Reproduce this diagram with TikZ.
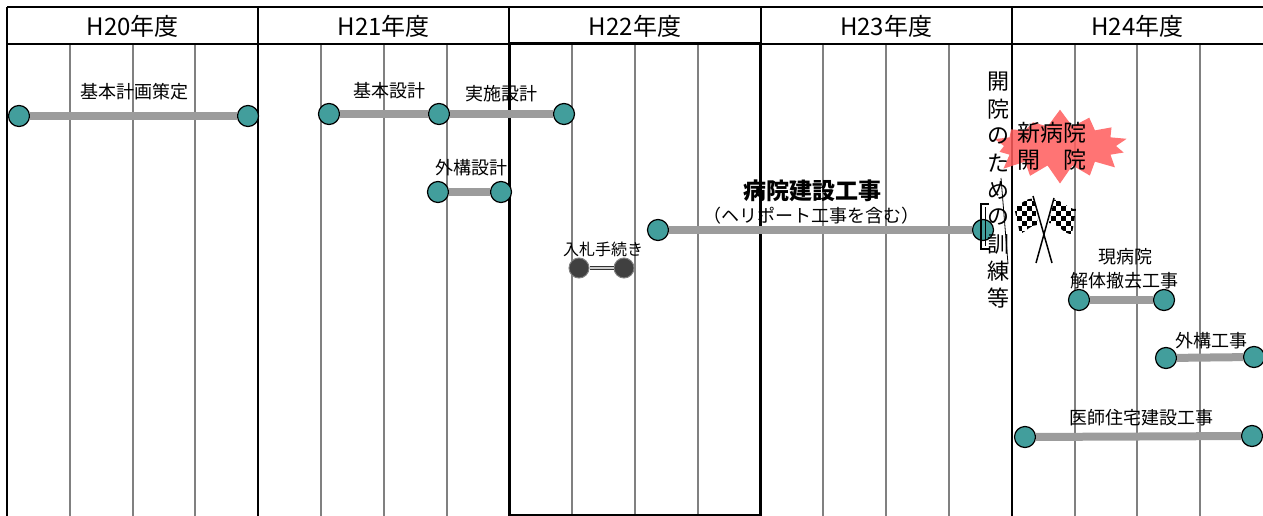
\documentclass[tikz,border=0pt]{standalone}
\usepackage{fontspec}
\setmainfont{Noto Sans CJK JP}
\usetikzlibrary{shapes.symbols}

\definecolor{dotteal}{HTML}{429E9C}
\definecolor{bargray}{HTML}{9C9C9C}
\definecolor{burstred}{HTML}{FF5C5C}

\begin{document}
\begin{tikzpicture}[x=1pt, y=-1pt,
    dot/.style={circle, draw=black, line width=1.2pt, fill=dotteal,
        minimum size=21pt, inner sep=0pt},
    darkdot/.style={circle, draw=gray, line width=1pt, fill=black!75,
        minimum size=20pt, inner sep=0pt},
    bar/.style={line width=8pt, draw=bargray},
    task/.style={font=\fontsize{18}{20}\selectfont, inner sep=0pt},
    year/.style={font=\fontsize{24}{26}\selectfont, inner sep=0pt},
    month/.style={draw=gray, line width=2pt},
    border/.style={draw=black, line width=2pt}
]
    \useasboundingbox (0,0) rectangle (1263,516);
    % grid
    \foreach \k in {0,...,4}
        \foreach \q in {1,2,3}
            \draw[month] ({7+251.2*\k+62.8*\q},44) -- ({7+251.2*\k+62.8*\q},516);
    \foreach \k in {0,...,4}
        \draw[border] ({7+251.2*\k},7) -- ({7+251.2*\k},516);
    \draw[border] (7,7) -- (1263,7);
    \draw[border] (7,44) -- (1263,44);
    \draw[line width=3pt] (509.4,44) rectangle (760.6,515);

    \node[year] (h20) at (132.6,26) {H20年度};
    \node[year] (h21) at (383.8,26) {H21年度};
    \node[year] (h22) at (635.0,26) {H22年度};
    \node[year] (h23) at (886.2,26) {H23年度};
    \node[year] (h24) at (1137.4,26) {H24年度};

    % tasks
    \node[dot] (kk1) at (19,116) {};
    \node[dot] (kk2) at (248,116) {};
    \draw[bar] (kk1) -- (kk2);
    \node[task] (kkt) at (134,92) {基本計画策定};

    \node[dot] (ks1) at (329,114) {};
    \node[dot] (ks2) at (439,114) {};
    \node[dot] (js2) at (564,114) {};
    \draw[bar] (ks1) -- (ks2);
    \draw[bar] (ks2) -- (js2);
    \node[task] (kst) at (389,91) {基本設計};
    \node[task] (jst) at (501,94) {実施設計};

    \node[dot] (gs1) at (438,192) {};
    \node[dot] (gs2) at (501,192) {};
    \draw[bar] (gs1) -- (gs2);
    \node[task] (gst) at (471,168) {外構設計};

    \node[darkdot] (nd1) at (579,268) {};
    \node[darkdot] (nd2) at (624,268) {};
    \draw[draw=black!80, line width=1pt, double=gray!40, double distance=2.5pt]
        (nd1) -- (nd2);
    \node[task, font=\fontsize{16}{18}\selectfont] (ndt) at (603,249) {入札手続き};

    \node[dot] (bk1) at (658,230) {};
    \node[dot] (bk2) at (983,230) {};
    \draw[bar] (bk1) -- (bk2);
    \node[task, font=\bfseries\fontsize{23}{25}\selectfont] (bkt) at (812,191) {病院建設工事};
    \node[task] (bks) at (811,216) {（ヘリポート工事を含む）};

    \node[dot] (kt1) at (1079,300) {};
    \node[dot] (kt2) at (1164,300) {};
    \draw[bar] (kt1) -- (kt2);
    \node[task] (ktt) at (1125,257) {現病院};
    \node[task] (kts) at (1124,281) {解体撤去工事};

    \node[dot] (gk1) at (1166,358) {};
    \node[dot] (gk2) at (1254,357) {};
    \draw[bar] (gk1) -- (gk2);
    \node[task] (gkt) at (1211,341) {外構工事};

    \node[dot] (is1) at (1025,437) {};
    \node[dot] (is2) at (1252,436) {};
    \draw[bar] (is1) -- (is2);
    \node[task] (ist) at (1141,418) {医師住宅建設工事};

    % opening
    \node[starburst, starburst points=14, starburst point height=18pt,
        random starburst=7, fill=burstred, fill opacity=0.85,
        minimum width=148pt, minimum height=76pt, inner sep=0pt] (burst) at (1060,146) {};
    \node[align=center, inner sep=0pt, font=\fontsize{23}{27}\selectfont] (bursttext)
        at (1052,146) {新病院\\開\hspace{1em}院};

    \foreach \c [count=\i from 0] in {開,院,の,た,め,の,訓,練,等}
        \node[inner sep=0pt, font=\fontsize{22}{22}\selectfont] (kn\i) at (998,{82+27*\i}) {\c};
    \draw[line width=1.3pt] (989,204) -| (981,249) -- (989,249);
    \draw[line width=1pt] (985,207) -- (985,246);
    \draw[line width=0.8pt] (1001,178) -- (1008,264);

    % flags
    \coordinate (lpt) at (1033,196);
    \coordinate (lpb) at (1052,263);
    \coordinate (rpt) at (1054,198);
    \coordinate (rpb) at (1036,263);
    \begin{scope}
        \clip (1034,199) .. controls (1026,197) and (1020,206) .. (1014,207)
            -- (1020,234) .. controls (1026,232) and (1031,224) .. (1038,225) -- cycle;
        \foreach \i in {0,...,5}
            \foreach \j in {0,...,8}
                {\ifodd\numexpr\i+\j\relax \fill ({1012+5*\i},{196+5*\j}) rectangle +(5,5); \fi}
    \end{scope}
    \begin{scope}
        \clip (1054,200) .. controls (1061,198) and (1068,210) .. (1076,209)
            -- (1072,234) .. controls (1064,235) and (1058,223) .. (1049,223) -- cycle;
        \foreach \i in {0,...,6}
            \foreach \j in {0,...,8}
                {\ifodd\numexpr\i+\j\relax \fill ({1046+5*\i},{196+5*\j}) rectangle +(5,5); \fi}
    \end{scope}
    \draw[line width=1.5pt] (lpt) -- (lpb);
    \draw[line width=1.5pt] (rpt) -- (rpb);
\end{tikzpicture}
\end{document}
